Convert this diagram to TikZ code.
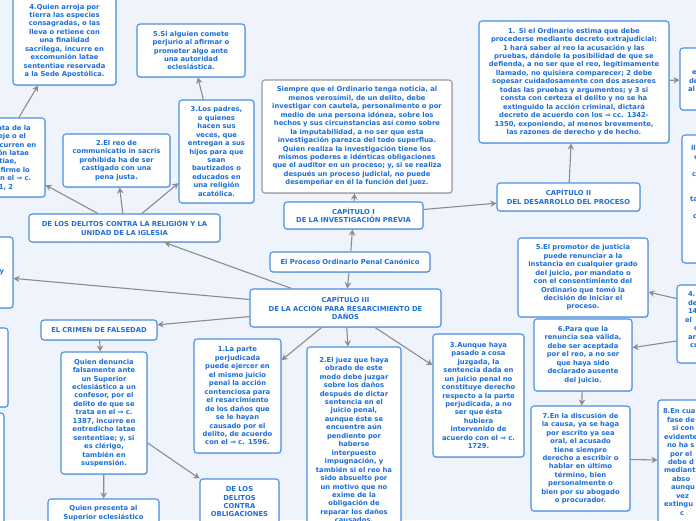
\documentclass[tikz,border=0pt]{standalone}
\usepackage{fontspec}
\setmainfont{DejaVu Sans}
\usepackage{tikz}
\usetikzlibrary{arrows.meta,shadows}
\definecolor{mapbg}{HTML}{EFF3FC}
\definecolor{accent}{HTML}{4A90E2}
\definecolor{ink}{HTML}{1D6FD6}
\definecolor{grayline}{HTML}{9A9A9A}
\definecolor{link}{HTML}{8C8C8C}
\tikzset{
  topic/.style={
    draw=accent, line width=1.1pt, rounded corners=3pt, fill=white,
    align=center, inner xsep=0pt, inner ysep=2pt, text=ink,
    font=\fontsize{6.8}{8.45}\selectfont\bfseries,
    drop shadow={shadow xshift=0.6pt, shadow yshift=-0.8pt, fill=black, opacity=0.15}
  },
  note/.style={topic, draw=grayline},
  dims/.style 2 args={text width=#1pt, minimum height=#2pt},
  arrow/.style={-{Stealth[length=6pt,width=6.5pt]}, line width=1.1pt, link},
}

\begin{document}
\begin{tikzpicture}[x=1pt, y=-1pt]
  \useasboundingbox (0,0) rectangle (696,520);
  \fill[mapbg] (0,0) rectangle (696,520);
  \clip (0,0) rectangle (696,520);

  % centre and chapters
  \node[topic, dims={160}{20}] (root) at (350,262) {El Proceso Ordinario Penal Canónico};
  \node[topic, dims={139}{27}] (cap1) at (353.5,215.5) {CAPÍTULO I\\DE LA INVESTIGACIÓN PREVIA};
  \node[note, dims={190}{113}] (previa) at (357,136.5) {Siempre que el Ordinario tenga noticia, al\\menos verosímil, de un delito, debe\\investigar con cautela, personalmente o por\\medio de una persona idónea, sobre los\\hechos y sus circunstancias así como sobre\\la imputabilidad, a no ser que esta\\investigación parezca del todo superflua.\\Quien realiza la investigación tiene los\\mismos poderes e idénticas obligaciones\\que el auditor en un proceso; y, si se realiza\\después un proceso judicial, no puede\\desempeñar en él la función del juez.};
  \node[topic, dims={143}{28}] (cap2) at (568.5,197) {CAPÍTULO II\\DEL DESARROLLO DEL PROCESO};
  \node[topic, dims={190}{122}] (decreto) at (574,82) {1. Si el Ordinario estima que debe\\procederse mediante decreto extrajudicial:\\1 hará saber al reo la acusación y las\\pruebas, dándole la posibilidad de que se\\defienda, a no ser que el reo, legítimamente\\llamado, no quisiera comparecer; 2 debe\\sopesar cuidadosamente con dos asesores\\todas las pruebas y argumentos; y 3 si\\consta con certeza el delito y no se ha\\extinguido la acción criminal, dictará\\decreto de acuerdo con los ⇒ cc. 1342-\\1350, exponiendo, al menos brevemente,\\las razones de derecho y de hecho.};
  \node[topic, dims={191}{38}] (cap3) at (345.5,308) {CAPÍTULO III\\DE LA ACCIÓN PARA RESARCIMIENTO DE\\DAÑOS};

  % right border, cut off
  \node[topic, dims={120}{62}, align=left] (judicial) at (740,79) {\mbox{}\\\hspace*{12pt}e\\\hspace*{9pt}de\\\hspace*{8pt}al};
  \node[topic, dims={120}{128}, align=left] (citacion) at (742,199) {\hspace*{9pt}ll\\\hspace*{12pt}c\\\mbox{}\\\hspace*{10pt}c\\\mbox{}\\\mbox{}\\\hspace*{8pt}ta\\\mbox{}\\\hspace*{11pt}c\\\mbox{}\\\mbox{}\\\mbox{}\\\mbox{}};
  \node[topic, dims={226}{78}, align=left] (abogado) at (790,324) {\hspace*{11pt}4.\\\hspace*{11pt}de\\\hspace*{11pt}14\\\hspace*{8pt}el\\\hspace*{17pt}c\\\hspace*{11pt}ar\\\hspace*{13pt}cu\\\mbox{}};
  \node[topic, dims={204}{124}, align=left] (absolver) at (760,462) {\hspace*{5pt}8.En cua\\\hspace*{9pt}fase de\\\hspace*{14pt}si con\\\hspace*{6pt}evidente\\\hspace*{9pt}no ha s\\\hspace*{12pt}por el\\\hspace*{10pt}debe d\\\hspace*{6pt}mediant\\\hspace*{14pt}abso\\\hspace*{13pt}aunqu\\\hspace*{18pt}vez\\\hspace*{6pt}extingu\\\hspace*{22pt}c};

  \node[topic, dims={130}{79}] (promotor) at (583,277.5) {5.El promotor de justicia\\puede renunciar a la\\instancia en cualquier grado\\del juicio, por mandato o\\con el consentimiento del\\Ordinario que tomó la\\decisión de iniciar el\\proceso.};
  \node[topic, dims={98}{72}] (renuncia) at (583,355) {6.Para que la\\renuncia sea válida,\\debe ser aceptada\\por el reo, a no ser\\que haya sido\\declarado ausente\\del juicio.};
  \node[topic, dims={99}{105}] (discusion) at (580.5,458.5) {7.En la discusión de\\la causa, ya se haga\\por escrito ya sea\\oral, el acusado\\tiene siempre\\derecho a escribir o\\hablar en último\\término, bien\\personalmente o\\bien por su abogado\\o procurador.};

  % below chapter III
  \node[topic, dims={87}{114}] (parte) at (237.5,396) {1.La parte\\perjudicada\\puede ejercer en\\el mismo juicio\\penal la acción\\contenciosa para\\el resarcimiento\\de los daños que\\se le hayan\\causado por el\\delito, de acuerdo\\con el ⇒ c. 1596.};
  \node[topic, dims={94}{186}] (juez) at (354,440) {2.El juez que haya\\obrado de este\\modo debe juzgar\\sobre los daños\\después de dictar\\sentencia en el\\juicio penal,\\aunque éste se\\encuentre aún\\pendiente por\\haberse\\interpuesto\\impugnación, y\\también si el reo ha\\sido absuelto por\\un motivo que no\\exime de la\\obligación de\\reparar los daños\\causados.};
  \node[topic, dims={91}{123}] (aunque) at (478.5,395.5) {3.Aunque haya\\pasado a cosa\\juzgada, la\\sentencia dada en\\un juicio penal no\\constituye derecho\\respecto a la parte\\perjudicada, a no\\ser que ésta\\hubiera\\intervenido de\\acuerdo con el ⇒ c.\\1729.};

  % left side
  \node[topic, dims={191}{28}] (religion) at (124.5,228) {DE LOS DELITOS CONTRA LA RELIGIÓN Y LA\\UNIDAD DE LA IGLESIA};
  \node[topic, dims={100}{79}] (apostata) at (-5,157.5) {1.El apóstata de la\\fe, el hereje o el\\cismático incurren en\\excomunión latae\\sententiae,\\quedando firme lo\\prescrito en el ⇒ c.\\194 § 1, 2};
  \node[topic, dims={107}{53}] (sacris) at (116.5,160.5) {2.El reo de\\communicatio in sacris\\prohibida ha de ser\\castigado con una\\pena justa.};
  \node[topic, dims={75}{103}] (padres) at (216.5,151.5) {3.Los padres,\\o quienes\\hacen sus\\veces, que\\entregan a sus\\hijos para que\\sean\\bautizados o\\educados en\\una religión\\acatólica.};
  \node[topic, dims={103}{88}] (especies) at (64.5,41) {4.Quien arroja por\\tierra las especies\\consagradas, o las\\lleva o retiene con\\una finalidad\\sacrílega, incurre en\\excomunión latae\\sententiae reservada\\a la Sede Apostólica.};
  \node[topic, dims={108}{53}] (perjurio) at (191,50.5) {5.Si alguien comete\\perjurio al afirmar o\\prometer algo ante\\una autoridad\\eclesiástica.};
  \node[topic, dims={132}{71}, align=right] (autoridad) at (-53,272.5) {y\rule{9pt}{0pt}};
  \node[topic, dims={100}{79}] (izq1) at (-42,367.5) {};
  \node[topic, dims={100}{127}] (izq2) at (-46,476.5) {};
  \node[topic, dims={116}{20}] (falsedad) at (99,330) {EL CRIMEN DE FALSEDAD};
  \node[topic, dims={86}{122}] (denuncia) at (104,413) {Quien denuncia\\falsamente ante\\un Superior\\eclesiástico a un\\confesor, por el\\delito de que se\\trata en el ⇒ c.\\1387, incurre en\\entredicho latae\\sententiae; y, si\\es clérigo,\\también en\\suspensión.};
  \node[topic, dims={111}{94}] (presenta) at (103.5,546) {Quien presenta al\\Superior eclesiástico\\\mbox{}\\\mbox{}\\\mbox{}\\\mbox{}\\\mbox{}\\\mbox{}\\\mbox{}\\\mbox{}};
  \node[topic, dims={79}{54}] (obligac) at (239.5,506) {DE LOS\\DELITOS\\CONTRA\\OBLIGACIONES\\\mbox{}};

  \draw[arrow] (root) -- (cap1);
  \draw[arrow] (cap1) -- (previa);
  \draw[arrow] (cap1) -- (cap2);
  \draw[arrow] (cap2) -- (decreto);
  \draw[arrow] (decreto) -- (judicial);
  \draw[arrow] (root) -- (cap3);
  \draw[arrow] (cap3) -- (religion);
  \draw[arrow] (cap3) -- (autoridad);
  \draw[arrow] (cap3) -- (falsedad);
  \draw[arrow] (cap3) -- (parte);
  \draw[arrow] (cap3) -- (juez);
  \draw[arrow] (cap3) -- (aunque);
  \draw[arrow] (religion) -- (apostata);
  \draw[arrow] (religion) -- (sacris);
  \draw[arrow] (religion) -- (padres);
  \draw[arrow] (apostata) -- (especies);
  \draw[arrow] (padres) -- (perjurio);
  \draw[arrow] (falsedad) -- (denuncia);
  \draw[arrow] (denuncia) -- (presenta);
  \draw[arrow] (denuncia) -- (obligac);
  \draw[arrow] (abogado) -- (promotor);
  \draw[arrow] (abogado) -- (renuncia);
  \draw[arrow] (renuncia) -- (discusion);
  \draw[arrow] (discusion) -- (absolver);
\end{tikzpicture}
\end{document}
